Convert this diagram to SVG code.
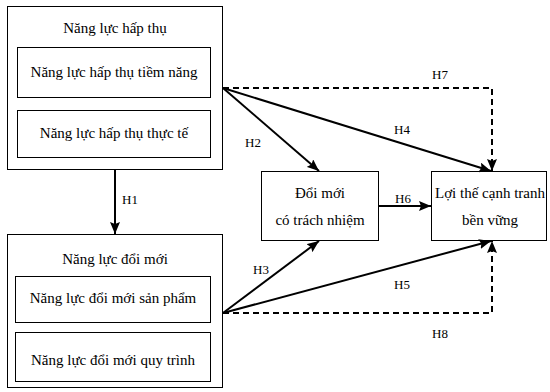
<svg xmlns="http://www.w3.org/2000/svg" width="550" height="392" viewBox="0 0 550 392">
  <defs>
    <marker id="arrow" viewBox="0 0 12 10" refX="12" refY="5" markerWidth="12" markerHeight="10" markerUnits="userSpaceOnUse" orient="auto">
      <path d="M0,0 L12,5 L0,10 L2,5 Z" fill="#000"/>
    </marker>
    <style>
      .box { fill: #fff; stroke: #000; stroke-width: 1; }
      .lbl { font-family: "Liberation Serif", "Times New Roman", serif; font-size: 15px; fill: #000; text-anchor: middle; }
      .hl { font-family: "Liberation Serif", "Times New Roman", serif; font-size: 13px; fill: #000; text-anchor: middle; }
      .edge { fill: none; stroke: #000; stroke-width: 2; }
      .dash { fill: none; stroke: #000; stroke-width: 2; stroke-dasharray: 6 4; }
    </style>
  </defs>

  <rect width="550" height="392" fill="#fff"/>

  <!-- Absorptive capacity -->
  <g id="absorptive">
    <rect class="box" x="7.5" y="6.5" width="215" height="163"/>
    <text class="lbl" x="115" y="33">Năng lực hấp thụ</text>
  </g>
  <g id="absorptive-potential">
    <rect class="box" x="17.5" y="47.5" width="193" height="50"/>
    <text class="lbl" x="114" y="77">Năng lực hấp thụ tiềm năng</text>
  </g>
  <g id="absorptive-realized">
    <rect class="box" x="17.5" y="110.5" width="193" height="47"/>
    <text class="lbl" x="114" y="138">Năng lực hấp thụ thực tế</text>
  </g>

  <!-- Innovation capacity -->
  <g id="innovation">
    <rect class="box" x="7.5" y="234.5" width="215" height="153"/>
    <text class="lbl" x="115" y="264">Năng lực đổi mới</text>
  </g>
  <g id="innovation-product">
    <rect class="box" x="15.5" y="276.5" width="195" height="46"/>
    <text class="lbl" x="113" y="303">Năng lực đổi mới sản phẩm</text>
  </g>
  <g id="innovation-process">
    <rect class="box" x="15.5" y="332.5" width="195" height="49"/>
    <text class="lbl" x="113" y="365">Năng lực đổi mới quy trình</text>
  </g>

  <!-- Responsible innovation -->
  <g id="responsible">
    <rect class="box" x="261.5" y="171.5" width="117" height="69"/>
    <text class="lbl" x="320" y="198">Đổi mới</text>
    <text class="lbl" x="320" y="225">có trách nhiệm</text>
  </g>

  <!-- Sustainable competitive advantage -->
  <g id="advantage">
    <rect class="box" x="431.5" y="171.5" width="115" height="69"/>
    <text class="lbl" x="490" y="198">Lợi thế cạnh tranh</text>
    <text class="lbl" x="490" y="225">bền vững</text>
  </g>

  <g id="connectors">
    <!-- H1 -->
    <line class="edge" x1="115" y1="170" x2="115" y2="234" marker-end="url(#arrow)" stroke-width="1.5"/>
    <!-- H2, H4 from absorptive capacity -->
    <line class="edge" x1="223" y1="88" x2="319" y2="171" marker-end="url(#arrow)"/>
    <line class="edge" x1="223" y1="88" x2="491" y2="171" marker-end="url(#arrow)"/>
    <!-- H7 dashed -->
    <polyline class="dash" points="223,88 492,88 492,171" marker-end="url(#arrow)"/>
    <!-- H3, H5 from innovation capacity -->
    <line class="edge" x1="223" y1="313" x2="319" y2="241" marker-end="url(#arrow)"/>
    <line class="edge" x1="223" y1="313" x2="491" y2="241" marker-end="url(#arrow)"/>
    <!-- H8 dashed -->
    <polyline class="dash" points="223,313 492,313 492,241" marker-end="url(#arrow)"/>
    <!-- H6 -->
    <line class="edge" x1="378" y1="206" x2="431" y2="206" marker-end="url(#arrow)"/>
  </g>

  <g id="labels">
    <text class="hl" x="130" y="204">H1</text>
    <text class="hl" x="253" y="147">H2</text>
    <text class="hl" x="261" y="274">H3</text>
    <text class="hl" x="402" y="134">H4</text>
    <text class="hl" x="402" y="289">H5</text>
    <text class="hl" x="403" y="203">H6</text>
    <text class="hl" x="440" y="79">H7</text>
    <text class="hl" x="440" y="338">H8</text>
  </g>
</svg>
